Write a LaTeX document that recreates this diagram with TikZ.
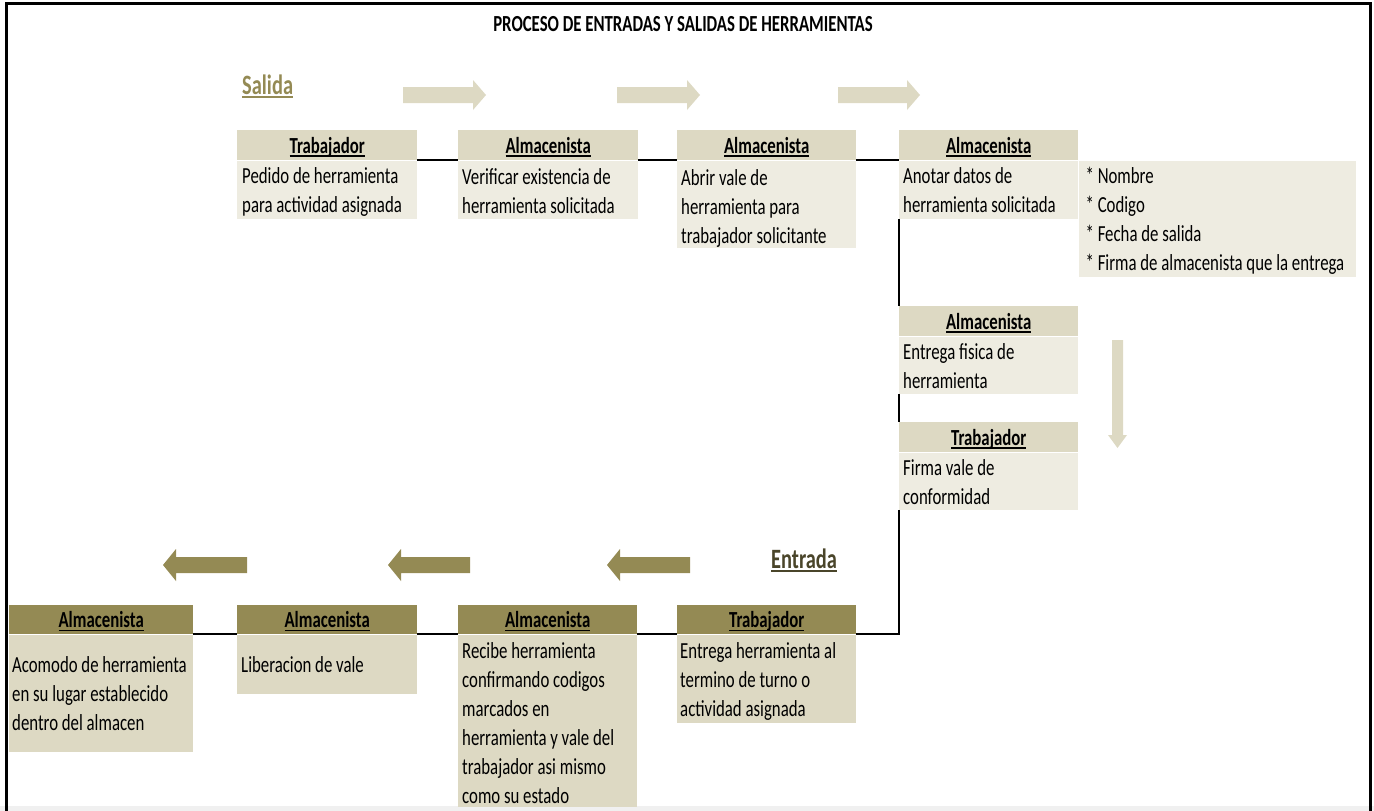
\documentclass[tikz,border=0pt]{standalone}
\usepackage{fontspec}
\setmainfont{Carlito}[FakeStretch=0.73]
\definecolor{tanL}{HTML}{EEECE1}
\definecolor{tanM}{HTML}{DDD9C3}
\definecolor{tanD}{HTML}{948A54}
\definecolor{tanX}{HTML}{4A452A}
\newcommand\uln[1]{\setbox0\hbox{#1}\rlap{\rule[-3.5pt]{\wd0}{1.6pt}}\box0}
% width, height, first baseline offset, left pad, lines
\newcommand\bx[5]{\vbox to #2pt{\hsize=#1pt\parindent=0pt\leftskip=#4pt\rightskip=-60pt plus 1fil\parfillskip=0pt plus 1fil
  \rule{0pt}{#3pt}#5\par\vfil}}
\tikzset{
  hdr/.style={anchor=north west, inner sep=0pt, minimum height=30pt, text height=22pt, text depth=6pt,
    font=\bfseries\fontsize{23}{29}\selectfont},
  bdy/.style={anchor=north west, inner sep=0pt, font=\fontsize{23}{29}\selectfont},
  conn/.style={draw=black, line width=2pt},
  larrow/.style={fill=tanM},
  darrow/.style={fill=tanD},
}
\begin{document}
\begin{tikzpicture}[x=1pt,y=-1pt]
\useasboundingbox (0,0) rectangle (1374,811);
\fill[black!6] (0,806) rectangle (1374,811);
\draw[line width=3pt] (6,811) -- (6,3) -- (1370,3) -- (1370,811);

\node[anchor=base, font=\bfseries\fontsize{23}{28}\selectfont] (title) at (683,31) {PROCESO DE ENTRADAS Y SALIDAS DE HERRAMIENTAS};
\node[anchor=base west, inner sep=0pt, text=tanD, font=\bfseries\fontsize{28}{32}\selectfont] (salida) at (242,94) {\uln{Salida}};
\node[anchor=base west, inner sep=0pt, text=tanX, font=\bfseries\fontsize{28}{32}\selectfont] (entrada) at (771,568) {\uln{Entrada}};

% top arrows
\fill[larrow] (403,87) -- (473,87) -- (473,80) -- (486,95) -- (473,110) -- (473,103) -- (403,103) -- cycle;
\fill[larrow] (617,87) -- (687,87) -- (687,80) -- (700,95) -- (687,110) -- (687,103) -- (617,103) -- cycle;
\fill[larrow] (838,87) -- (907,87) -- (907,80) -- (920,95) -- (907,110) -- (907,103) -- (838,103) -- cycle;
% down arrow
\fill[larrow] (1112,340) -- (1123,340) -- (1123,435) -- (1127,435) -- (1117.5,448) -- (1108,435) -- (1112,435) -- cycle;
% bottom arrows
\fill[darrow] (247,557) -- (176,557) -- (176,549) -- (163,565) -- (176,581) -- (176,573) -- (247,573) -- cycle;
\fill[darrow] (470,557) -- (401,557) -- (401,549) -- (388,565) -- (401,581) -- (401,573) -- (470,573) -- cycle;
\fill[darrow] (690,557) -- (620,557) -- (620,549) -- (607,565) -- (620,581) -- (620,573) -- (690,573) -- cycle;

% upper row
\node[hdr, fill=tanM, minimum width=180pt] (h1) at (237,130) {\uln{Trabajador}};
\node[bdy, fill=tanL] (b1) at (h1.south west) {\bx{180}{58}{23}{5}{Pedido de herramienta\\para actividad asignada}};
\node[hdr, fill=tanM, minimum width=180pt] (h2) at (458,130) {\uln{Almacenista}};
\node[bdy, fill=tanL] (b2) at (h2.south west) {\bx{180}{58}{24}{4}{Verificar existencia de\\herramienta solicitada}};
\node[hdr, fill=tanM, minimum width=179pt] (h3) at (677,130) {\uln{Almacenista}};
\node[bdy, fill=tanL] (b3) at (h3.south west) {\bx{179}{87}{25}{4}{Abrir vale de\\herramienta para\\trabajador solicitante}};
\node[hdr, fill=tanM, minimum width=179pt] (h4) at (899,130) {\uln{Almacenista}};
\node[bdy, fill=tanL] (b4) at (h4.south west) {\bx{179}{58}{23}{4}{Anotar datos de\\herramienta solicitada}};
\node[bdy, fill=tanL] (notes) at (b4.north east) {\bx{277}{116}{23}{7}{* Nombre\\{}* Codigo\\{}* Fecha de salida\\{}* Firma de almacenista que la entrega}};

\node[hdr, fill=tanM, minimum width=179pt] (h5) at (899,306) {\uln{Almacenista}};
\node[bdy, fill=tanL] (b5) at (h5.south west) {\bx{179}{57}{23}{4}{Entrega fisica de\\herramienta}};
\node[hdr, fill=tanM, minimum width=179pt] (h6) at (899,422) {\uln{Trabajador}};
\node[bdy, fill=tanL] (b6) at (h6.south west) {\bx{179}{57}{23}{4}{Firma vale de\\conformidad}};

% lower row
\node[hdr, fill=tanD, minimum width=179pt, minimum height=29pt] (h7) at (677,605) {\uln{Trabajador}};
\node[bdy, fill=tanM] (b7) at (h7.south west) {\bx{179}{88}{24}{3}{Entrega herramienta al\\termino de turno o\\actividad asignada}};
\node[hdr, fill=tanD, minimum width=179pt, minimum height=29pt] (h8) at (458,605) {\uln{Almacenista}};
\node[bdy, fill=tanM] (b8) at (h8.south west) {\bx{179}{172}{24}{4}{Recibe herramienta\\confirmando codigos\\marcados en\\herramienta y vale del\\trabajador asi mismo\\como su estado}};
\node[hdr, fill=tanD, minimum width=180pt, minimum height=29pt] (h9) at (237,605) {\uln{Almacenista}};
\node[bdy, fill=tanM] (b9) at (h9.south west) {\bx{180}{59}{38}{4}{Liberacion de vale}};
\node[hdr, fill=tanD, minimum width=184pt, minimum height=29pt] (h10) at (9,605) {\uln{Almacenista}};
\node[bdy, fill=tanM] (b10) at (h10.south west) {\bx{184}{117}{38}{3}{Acomodo de herramienta\\en su lugar establecido\\dentro del almacen}};

% connectors
\draw[conn] (h1.south east) -- (h2.south west);
\draw[conn] (h2.south east) -- (h3.south west);
\draw[conn] (h3.south east) -- (h4.south west);
\draw[conn] (b4.south west) -- (h5.north west);
\draw[conn] (b5.south west) -- (h6.north west);
\draw[conn] (b6.south west) |- (b7.north east);
\draw[conn] (b8.north east) -- (b7.north west);
\draw[conn] (b9.north east) -- (b8.north west);
\draw[conn] (b10.north east) -- (b9.north west);
\end{tikzpicture}
\end{document}
